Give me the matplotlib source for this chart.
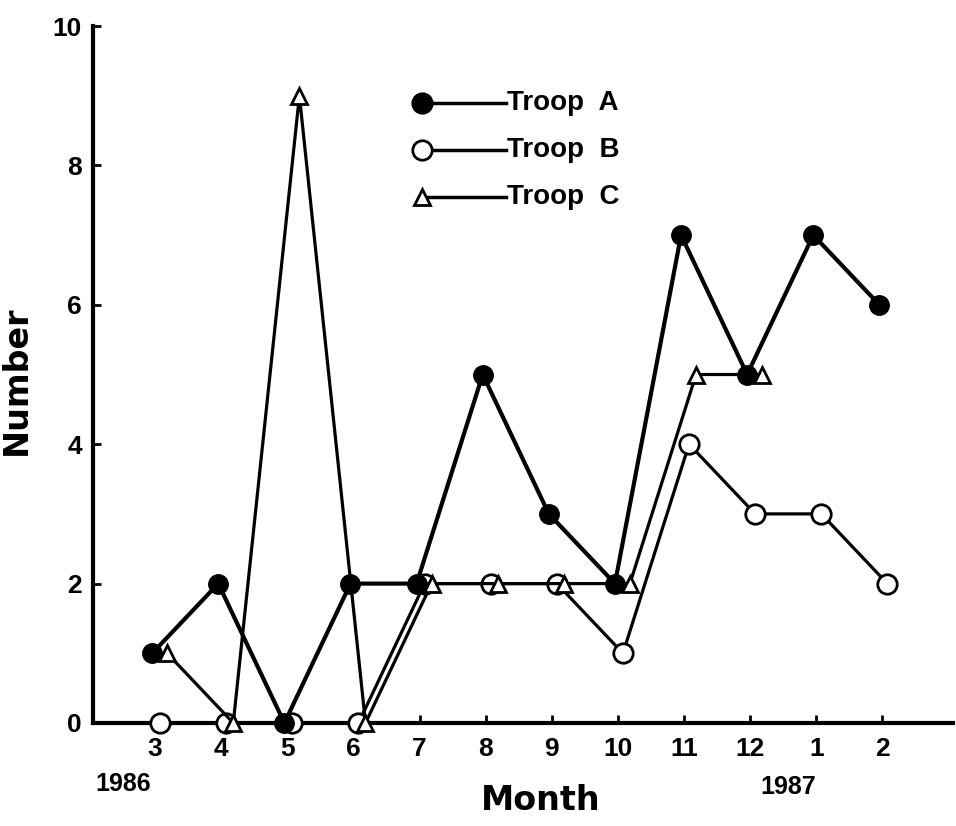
import numpy as np
import matplotlib.pyplot as plt
from matplotlib.transforms import ScaledTranslation

# months Mar 1986 - Feb 1987
month_labels = ['3', '4', '5', '6', '7', '8', '9', '10', '11', '12', '1', '2']
month_pos = np.arange(3, 15)

troop_a = [1, 2, 0, 2, 2, 5, 3, 2, 7, 5, 7, 6]
troop_b = [0, 0, 0, 0, 2, 2, 2, 1, 4, 3, 3, 2]
troop_c = [1, 0, 9, 0, 2, 2, 2, 2, 5, 5]   # no record for 1, 2 of 1987

plt.rcParams['font.family'] = ['Liberation Sans Narrow', 'Liberation Sans', 'DejaVu Sans']
plt.rcParams['font.weight'] = 'bold'

fig = plt.figure(figsize=(9.56, 8.26), dpi=100)
ax = fig.add_axes([0.0973, 0.1247, 0.8997, 0.8438])

def shift(px):
    return ax.transData + ScaledTranslation(px / 100, 0, fig.dpi_scale_trans)

# series drawn slightly apart like the original figure
ax.plot(month_pos, troop_a, color='black', lw=3, marker='o', ms=14,
        mfc='black', mec='black', transform=shift(-3), zorder=4, clip_on=False)
ax.plot(month_pos, troop_b, color='black', lw=2.3, marker='o', ms=14,
        mfc='white', mec='black', mew=2, transform=shift(5), zorder=3, clip_on=False)
ax.plot(month_pos[:len(troop_c)], troop_c, color='black', lw=2.3, marker='^', ms=11,
        mfc='white', mec='black', mew=2, transform=shift(12), zorder=3, clip_on=False)

ax.set_xlim(2.06, 15.07)
ax.set_ylim(0, 10)
ax.set_xticks(month_pos)
ax.set_xticklabels(month_labels)
ax.set_yticks([0, 2, 4, 6, 8, 10])
ax.tick_params(direction='in', length=6, width=2, labelsize=19, pad=8)
ax.tick_params(axis='x', pad=10)
for s in ['top', 'right']:
    ax.spines[s].set_visible(False)
for s in ['left', 'bottom']:
    ax.spines[s].set_linewidth(3)

ax.set_xlabel('Month', fontsize=24, fontweight='bold', family='DejaVu Sans')
ax.set_ylabel('Number', fontsize=24, fontweight='bold', family='DejaVu Sans')
ax.xaxis.set_label_coords(0.521, -0.088)
ax.yaxis.set_label_coords(-0.07, 0.492)
ax.text(0.035, -0.088, '1986', transform=ax.transAxes, fontsize=18, ha='center', va='center')
ax.text(0.808, -0.092, '1987', transform=ax.transAxes, fontsize=18, ha='center', va='center')

# hand-drawn style legend
leg_rows = [('Troop  A', 'o', 'black'), ('Troop  B', 'o', 'white'), ('Troop  C', '^', 'white')]
for i, (lab, mk, fc) in enumerate(leg_rows):
    y = 0.89 - i * 0.068
    ax.plot([0.382, 0.48], [y, y], color='black', lw=2.5, transform=ax.transAxes)
    ax.plot([0.382], [y], marker=mk, ms=14 if mk == 'o' else 11, mfc=fc, mec='black',
            mew=2, color='black', transform=ax.transAxes)
    ax.text(0.481, y, lab, transform=ax.transAxes, fontsize=20, va='center', ha='left')

fig.savefig('out.png', dpi=100)
